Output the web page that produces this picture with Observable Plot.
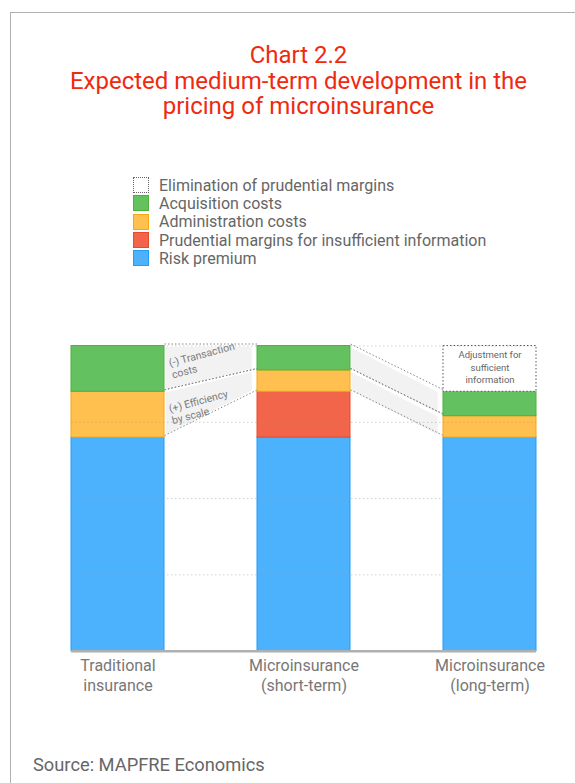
<!DOCTYPE html>
<html><head><meta charset="utf-8">
<script src="https://cdn.jsdelivr.net/npm/d3@7"></script>
<script src="https://cdn.jsdelivr.net/npm/@observablehq/plot@0.6"></script>
<style>
html,body{margin:0;padding:0;background:#fff;width:575px;height:783px;overflow:hidden;font-family:Roboto,"Noto Sans",sans-serif;}
#frame{position:absolute;left:10px;top:12px;width:700px;height:900px;border-left:1px solid #b0b0b0;border-top:1px solid #b0b0b0;}
#title{position:absolute;left:10px;width:577px;top:43px;text-align:center;color:#ee2a0f;font-size:24px;font-weight:400;line-height:25.5px;}
#legend{position:absolute;left:133px;top:176px;}
.item{display:flex;align-items:center;height:18.3px;color:#666;font-size:16px;}
.sw{width:16px;height:16px;box-sizing:border-box;border:1.5px solid;margin-right:10px;}
#chart{position:absolute;left:0;top:300px;}
#source{position:absolute;left:33px;top:754px;font-size:18.3px;color:#666;}
</style></head>
<body>
<div id="frame"></div>
<div id="title">Chart 2.2<br>Expected medium-term development in the<br>pricing of microinsurance</div>
<div id="legend"></div>
<div id="chart"></div>
<div id="source">Source: MAPFRE Economics</div>
<script>
const categories = ["Traditional\ninsurance", "Microinsurance\n(short-term)", "Microinsurance\n(long-term)"];
const components = ["Risk premium", "Prudential margins for insufficient information", "Administration costs", "Acquisition costs", "Elimination of prudential margins"];
const riskPremium = [70, 70, 70];
const prudentialMargins = [0, 15, 0];
const administrationCosts = [15, 7, 7];
const acquisitionCosts = [15, 8, 8];
const eliminationMargins = [0, 0, 15];
const yTicks = [25, 50, 75, 100];
const legendOrder = ["Elimination of prudential margins", "Acquisition costs", "Administration costs", "Prudential margins for insufficient information", "Risk premium"];
const connectors = [
  {from: 0, to: 1, component: "Acquisition costs", label: "(-) Transaction\ncosts"},
  {from: 0, to: 1, component: "Administration costs", label: "(+) Efficiency\nby scale"},
  {from: 1, to: 2, component: "Acquisition costs", label: ""},
  {from: 1, to: 2, component: "Administration costs", label: ""}
];
const boxNote = "Adjustment for\nsufficient\ninformation";

const fillColors = {
  "Risk premium": "#4cb2fe",
  "Prudential margins for insufficient information": "#f2654b",
  "Administration costs": "#ffc04f",
  "Acquisition costs": "#63c160",
  "Elimination of prudential margins": "#ffffff"
};
const strokeColors = {
  "Risk premium": "#229cf5",
  "Prudential margins for insufficient information": "#ea4a2c",
  "Administration costs": "#f5a90e",
  "Acquisition costs": "#4db23a",
  "Elimination of prudential margins": "#666"
};

const series = [riskPremium, prudentialMargins, administrationCosts, acquisitionCosts, eliminationMargins];
const table = categories.flatMap((c, i) => components.map((k, j) => ({category: c, index: i, component: k, value: series[j][i]})));

const cum = categories.map((c, i) => {
  let s = 0; const o = {};
  components.forEach((k, j) => { o[k] = [s, s + series[j][i]]; s += series[j][i]; });
  return o;
});

const hw = 0.25;
const bandPts = connectors.flatMap((c, id) => [
  {id, x: c.from + hw, y1: cum[c.from][c.component][0], y2: cum[c.from][c.component][1]},
  {id, x: c.to - hw - 0.02, y1: cum[c.to][c.component][0], y2: cum[c.to][c.component][1]}
]);
const edges = connectors.flatMap(c => [0, 1].map(e => ({
  x1: c.from + hw, y1: cum[c.from][c.component][e],
  x2: c.to - hw, y2: cum[c.to][c.component][e]
})));
const labels = connectors.filter(c => c.label).map(c => ({
  text: c.label, x: c.from + hw, y: d3.mean(cum[c.from][c.component])
}));
const elimK = "Elimination of prudential margins";
const noteData = categories.map((c, i) => ({i, r: cum[i][elimK], v: eliminationMargins[i]})).filter(d => d.v > 0);

const leg = document.getElementById("legend");
legendOrder.forEach(k => {
  const it = document.createElement("div"); it.className = "item";
  const sw = document.createElement("div"); sw.className = "sw";
  sw.style.background = fillColors[k]; sw.style.borderColor = strokeColors[k];
  if (k === elimK) { sw.style.borderStyle = "dotted"; sw.style.borderWidth = "1px"; }
  it.appendChild(sw);
  const t = document.createElement("span"); t.textContent = k; it.appendChild(t);
  leg.appendChild(it);
});

const stackOpts = {x1: d => d.index - hw, x2: d => d.index + hw, y: "value", z: "component", order: components, filter: d => d.value > 0};

const chart = Plot.plot({
  width: 575, height: 420,
  marginLeft: 71, marginRight: 39, marginTop: 45.5, marginBottom: 69.3,
  x: {domain: [-hw, categories.length - 1 + hw], axis: null},
  y: {domain: [0, 100], axis: null},
  color: {type: "identity"},
  style: {fontFamily: "Roboto, 'Noto Sans', sans-serif", background: "transparent", overflow: "visible"},
  marks: [
    Plot.areaY(bandPts, {x: "x", y1: "y1", y2: "y2", z: "id", fill: "#f2f2f2", stroke: "white", strokeWidth: 3}),
    Plot.link(edges, {x1: "x1", y1: "y1", x2: "x2", y2: "y2", stroke: "#888", strokeWidth: 1, strokeDasharray: "1.5,2", dy: -2}),
    Plot.rectY(table, Plot.stackY({...stackOpts,
      fill: d => fillColors[d.component],
      stroke: d => d.component === elimK ? "none" : strokeColors[d.component], strokeWidth: 1})),
    Plot.rectY(table, Plot.stackY({...stackOpts, fill: "none",
      stroke: d => d.component === elimK ? "#555" : "none", strokeWidth: 1, strokeDasharray: "1.5,2"})),
    Plot.gridY(yTicks, {stroke: "#999", strokeOpacity: 0.45, strokeDasharray: "1.5,2.5"}),
    Plot.ruleY([0], {stroke: "#b0b0b0", strokeWidth: 2.5}),
    Plot.text(labels, {x: "x", y: "y", text: "text", dx: 6, rotate: -15, textAnchor: "start", lineAnchor: "middle", fontSize: 10.5, lineHeight: 1.15, fill: "#7a7a7a"}),
    Plot.text(noteData, {x: "i", y: d => d.r[0] + d.v * 0.55, text: () => boxNote, fontSize: 9.5, lineHeight: 1.3, fill: "#666", lineAnchor: "middle"}),
    Plot.axisX(categories.map((c, i) => i), {tickFormat: i => categories[i], tickSize: 0, tickPadding: 6, fontSize: 16, lineHeight: 1.25, fill: "#777", anchor: "bottom"})
  ]
});
document.getElementById("chart").appendChild(chart);
</script>
</body></html>
